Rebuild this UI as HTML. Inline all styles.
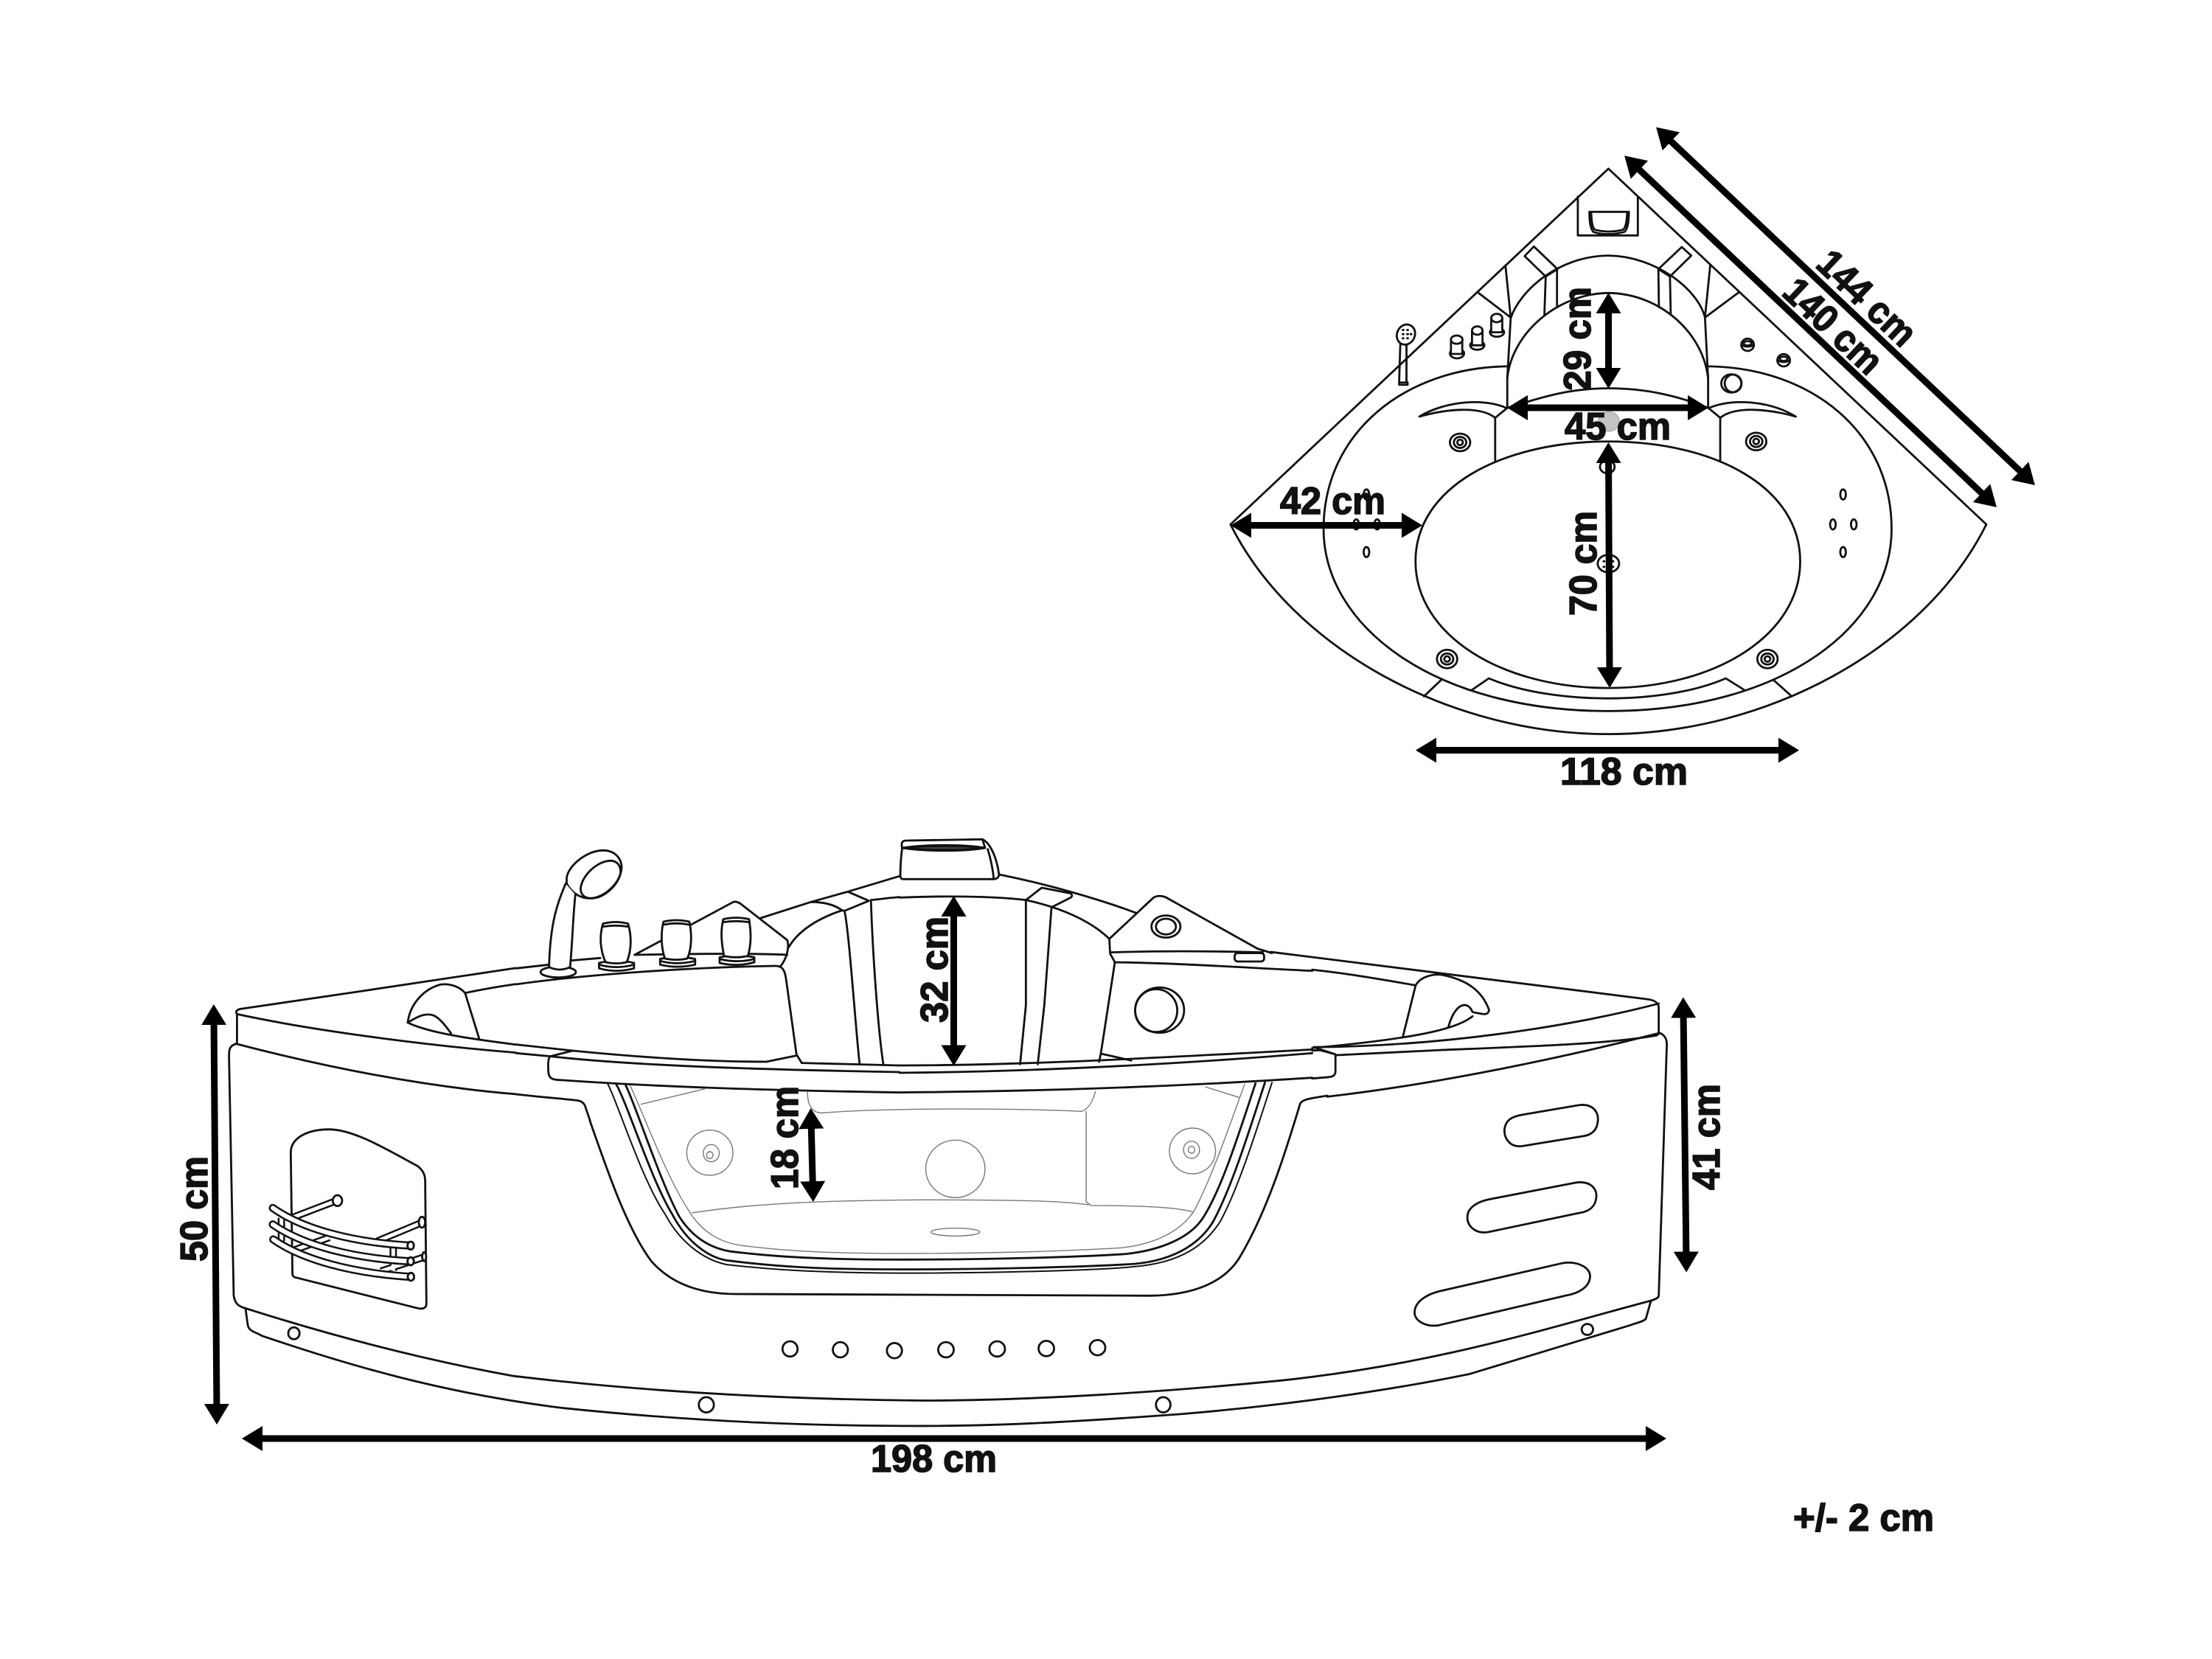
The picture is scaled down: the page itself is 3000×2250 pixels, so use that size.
<!DOCTYPE html>
<html><head><meta charset="utf-8"><title>Corner bath dimensions</title>
<style>
html,body{margin:0;padding:0;background:#fff}
svg{display:block}
svg *{vector-effect:non-scaling-stroke}
.d{fill:none;stroke:#111;stroke-width:2.8;stroke-linejoin:round;stroke-linecap:round}
.g{fill:none;stroke:#777;stroke-width:1.4}
.a{stroke:#000;stroke-width:9;fill:none;marker-start:url(#h);marker-end:url(#h)}
text{font-family:"Liberation Sans",sans-serif;font-weight:700;font-size:52px;fill:#111;stroke:#111;stroke-width:1.6;paint-order:stroke}
</style></head><body>
<svg xmlns="http://www.w3.org/2000/svg" width="3000" height="2250" viewBox="0 0 3000 2250">
<defs><marker id="h" markerUnits="userSpaceOnUse" markerWidth="28" markerHeight="34" viewBox="0 0 28 34" refX="13" refY="17" orient="auto-start-reverse"><path d="M0,0L28,17L0,34z" fill="#000"/></marker></defs>
<rect width="3000" height="2250" fill="#fff"/>

<!-- TOP VIEW outer -->
<g transform="translate(1600,130) scale(.765,.625)">
<g class="d">
<path d="M760,158L1430,930C1320,1200 1040,1385 760,1385C480,1385 200,1200 90,930Z"/>
<path d="M580,587C400,590 255,730 255,940C255,1150 450,1335 760,1335C1070,1335 1262,1150 1262,940C1262,730 1120,590 938,587"/>
<path d="M760,750C570,750 418,850 418,1010C418,1170 570,1285 760,1285C950,1285 1100,1170 1100,1010C1100,850 950,750 760,750Z"/>
<path d="M433,1303L463,1268M1085,1303L1053,1268M517,1290L548,1264C660,1322 860,1322 968,1264L1002,1290"/>
<ellipse cx="497" cy="752" rx="18" ry="19"/><ellipse cx="497" cy="752" rx="11" ry="12"/><ellipse cx="497" cy="752" rx="5" ry="6"/>
<ellipse cx="1022" cy="750" rx="18" ry="19"/><ellipse cx="1022" cy="750" rx="11" ry="12"/><ellipse cx="1022" cy="750" rx="5" ry="6"/>
<ellipse cx="474" cy="1222" rx="18" ry="20"/><ellipse cx="474" cy="1222" rx="11" ry="12"/><ellipse cx="474" cy="1222" rx="5" ry="6"/>
<ellipse cx="1042" cy="1222" rx="18" ry="20"/><ellipse cx="1042" cy="1222" rx="11" ry="12"/><ellipse cx="1042" cy="1222" rx="5" ry="6"/>
<ellipse cx="331" cy="865" rx="5" ry="11"/><ellipse cx="313" cy="930" rx="5" ry="11"/><ellipse cx="350" cy="930" rx="5" ry="11"/><ellipse cx="331" cy="990" rx="5" ry="11"/>
<ellipse cx="1176" cy="865" rx="5" ry="11"/><ellipse cx="1158" cy="930" rx="5" ry="11"/><ellipse cx="1195" cy="930" rx="5" ry="11"/><ellipse cx="1176" cy="990" rx="5" ry="11"/>
<ellipse cx="760" cy="1015" rx="19" ry="19"/><ellipse cx="758" cy="805" rx="13" ry="14"/>
<ellipse cx="401" cy="518" rx="16" ry="22" transform="rotate(10 401 518)"/>
<path d="M391,540L389,620M402,540L402,620M389,622H404V627H389Z"/>
</g>
<g fill="#111"><circle cx="396" cy="508" r="2.500"/><circle cx="404" cy="508" r="2.500"/><circle cx="396" cy="517" r="2.500"/><circle cx="404" cy="517" r="2.500"/><circle cx="410" cy="517" r="2.500"/><circle cx="396" cy="526" r="2.500"/><circle cx="404" cy="526" r="2.500"/><circle cx="752" cy="1010" r="2.500"/><circle cx="768" cy="1010" r="2.500"/><circle cx="752" cy="1022" r="2.500"/><circle cx="768" cy="1022" r="2.500"/></g>
</g>

<!-- TOP VIEW centre -->
<g transform="translate(1900,220) scale(.357,.3333)">
<circle cx="790" cy="1055" r="40" fill="#c4c4c4" stroke="#999" stroke-width="1"/>
<g class="d">
<path d="M672,140V298H900V140"/>
<path d="M716,202H866C866,240 862,270 850,283C810,296 760,296 730,283C718,265 716,235 716,202ZM723,210C724,240 727,262 735,274C770,285 810,285 845,274C855,262 858,240 859,210"/>
<path d="M470,382L505,343L595,435L550,465ZM1103,380L1067,345L978,435L1022,465Z"/>
<path d="M418,632C450,530 590,382 788,380C970,382 1130,520 1155,632"/>
<path d="M404,880C420,700 590,535 788,532C990,535 1150,700 1167,880"/>
<path d="M550,465L545,620M593,435V590M978,435L980,590M1022,465L1025,620"/>
<path d="M397,420L417,632L404,880V1000M1175,420L1155,632L1167,880V1000M290,528L417,632M1283,530L1155,632"/>
<path d="M404,1000C550,950 650,920 788,920C930,920 1050,950 1168,1000M404,1000L358,1040V1218M1168,1000L1213,1040V1215"/>
<path d="M70,1035C170,970 320,960 400,1000M70,1035C170,1005 300,990 358,1040M1500,1035C1400,970 1260,960 1170,1000M1500,1035C1400,1005 1270,990 1213,1040"/>
<ellipse cx="213" cy="778" rx="27" ry="20"/><path d="M190,722V780H233V722" fill="#fff"/><ellipse cx="212" cy="722" rx="22" ry="17" fill="#fff"/>
<ellipse cx="290" cy="745" rx="27" ry="18"/><path d="M270,685V745H310V685" fill="#fff"/><ellipse cx="290" cy="685" rx="20" ry="17" fill="#fff"/>
<ellipse cx="365" cy="692" rx="27" ry="18"/><path d="M343,634V692H385V634" fill="#fff"/><ellipse cx="364" cy="634" rx="21" ry="17" fill="#fff"/>
<ellipse cx="1317" cy="743" rx="24" ry="25"/><ellipse cx="1317" cy="737" rx="15" ry="9"/><path d="M1293,743Q1317,758 1341,743"/>
<ellipse cx="1454" cy="806" rx="24" ry="25"/><ellipse cx="1454" cy="800" rx="15" ry="9"/><path d="M1430,806Q1454,820 1478,806"/>
<ellipse cx="1255" cy="900" rx="38" ry="37"/><ellipse cx="1262" cy="900" rx="32" ry="36"/>
</g>
</g>

<!-- SIDE VIEW LEFT remainder -->
<g transform="translate(250,1120) scale(.6378,.574)">
<g class="d">
<path d="M118,433C300,405 550,360 705,336"/>
<path d="M597,395C640,385 680,378 705,374"/>
<path d="M118,433C108,436 110,442 112,445V512M112,445C300,490 550,522 705,536M475,465C520,490 620,505 705,517"/>
<path d="M110,515C300,570 500,615 705,634"/>
<path d="M110,515C95,520 95,530 95,545L105,1110C108,1130 115,1135 130,1140C300,1200 500,1260 700,1300C1000,1340 1300,1355 1568,1358"/>
<path d="M130,1140L135,1180C138,1195 150,1195 165,1205C350,1275 550,1340 800,1375C1100,1410 1350,1418 1568,1418"/>
<ellipse cx="233" cy="1199" rx="12" ry="14"/><ellipse cx="1110" cy="1368" rx="16" ry="18"/>
<ellipse cx="1288" cy="1236" rx="16" ry="18"/><ellipse cx="1395" cy="1238" rx="16" ry="18"/><ellipse cx="1510" cy="1240" rx="16" ry="18"/>
<path d="M597,395C585,380 565,372 545,375C510,385 480,420 475,465C490,455 510,440 530,448C545,455 560,480 567,490M597,395L627,503"/>
</g>
</g>

<!-- NICHE + BARS -->
<g transform="translate(300,1520) scale(.3333)">
<g class="d">
<path d="M290,625L283,130C283,70 350,35 440,35C540,35 680,120 800,185C825,205 830,225 830,245L835,745C835,762 820,768 800,763L300,637Q290,632 290,625Z"/>
</g>
<g fill="none" stroke-linecap="butt">
<path id="rods" d="M292,393L462,328M635,490L815,415M650,612L825,555M300,525L440,475M245,395V490M700,515V610" stroke="#111" stroke-width="10"/>
<path d="M292,393L462,328M635,490L815,415M650,612L825,555M300,525L440,475M245,395V490M700,515V610" stroke="#fff" stroke-width="5"/>
</g>
<g class="d" fill="#fff"><ellipse cx="473" cy="325" rx="19" ry="22" fill="#fff"/><ellipse cx="817" cy="413" rx="13" ry="22" fill="#fff"/><ellipse cx="826" cy="553" rx="8" ry="18" fill="#fff"/></g>
<g fill="none" stroke-linecap="round">
<path d="M210,355C330,440 530,495 770,508M210,422C330,505 530,560 770,572M212,483C330,565 530,620 770,635" stroke="#111" stroke-width="11"/>
<path d="M210,355C330,440 530,495 770,508M210,422C330,505 530,560 770,572M212,483C330,565 530,620 770,635" stroke="#fff" stroke-width="6"/>
</g>
<g class="d"><ellipse cx="771" cy="508" rx="13" ry="16" fill="#fff"/><ellipse cx="771" cy="572" rx="13" ry="16" fill="#fff"/><ellipse cx="772" cy="635" rx="13" ry="16" fill="#fff"/></g>
</g>

<!-- DECK LEFT-CENTRE -->
<g transform="translate(700,1130) scale(.357,.3333)">
<g class="d">
<path d="M0,550L125,535M210,518L320,508M450,495C700,490 900,488 1030,495"/>
<path d="M450,495L555,435M665,372L825,280Q835,276 850,285L1030,435C1038,460 1030,510 1003,543"/>
<path d="M930,345L1120,280L1260,238L1456,175M1120,280C1180,280 1215,295 1240,315M1260,238L1340,275L1250,315H1240M1348,272C1400,266 1430,262 1456,260M1035,465C1070,400 1140,350 1235,315"/>
<path d="M1248,320C1265,400 1290,800 1305,940M1348,278C1355,500 1375,800 1395,940"/>
<path d="M0,615C300,570 700,545 985,540C1010,540 1020,555 1025,590L1065,900L1085,935M950,930L1065,905"/>
<path d="M192,180C200,130 270,70 330,70C380,70 405,110 400,150C390,210 330,265 280,265C240,265 210,240 192,205Z"/>
<path d="M245,225C250,170 310,112 360,112C395,115 400,150 395,170C380,220 330,265 285,265C260,265 245,250 245,225Z"/>
<ellipse cx="160" cy="565" rx="67" ry="22" fill="#fff"/>
<path d="M188,205C160,280 130,350 125,545Q165,565 205,545C215,430 215,350 225,250" fill="#fff"/>
<path d="M315,528V550Q380,570 448,550V528Q380,510 315,528Z" fill="#fff"/><path d="M315,535Q380,555 448,535"/>
<path d="M330,368C315,420 320,480 340,525Q380,535 420,525C438,480 440,420 425,368Q378,355 330,368ZM332,380Q378,372 423,380" fill="#fff"/>
<path d="M547,512V535Q610,552 680,535V512Q610,495 547,512Z" fill="#fff"/><path d="M547,520Q610,538 680,520"/>
<path d="M560,360C548,410 552,470 565,510Q610,520 650,510C668,470 668,410 658,360Q608,348 560,360ZM562,372Q608,362 656,372" fill="#fff"/>
<path d="M773,505V528Q840,545 905,525V505Q840,490 773,505Z" fill="#fff"/><path d="M773,512Q840,530 905,512"/>
<path d="M787,350C775,400 782,460 790,500Q835,510 880,500C895,450 892,400 885,350Q835,338 787,350ZM788,362Q835,354 884,362" fill="#fff"/>
<path d="M1085,935L1456,945M0,860L215,885C500,915 750,930 950,930M0,895L130,908L215,885"/>
<path d="M130,908C400,940 800,960 1456,972M130,908Q120,915 122,960C122,990 130,1000 150,1003C500,1030 900,1045 1456,1055"/>
<path d="M0,1062C100,1075 180,1080 235,1088C255,1092 262,1105 265,1120L281,1170"/>
</g>
</g>

<!-- DECK RIGHT-CENTRE -->
<g transform="translate(1220,1130) scale(.357,.3333)">
<g class="d">
<path d="M10,60C5,100 3,130 3,170Q2,187 15,187H360Q375,185 378,170C370,100 345,40 315,25L25,30C10,30 5,40 10,60C100,45 250,45 325,60C250,75 100,75 10,60ZM315,25L325,60M335,65C345,100 355,150 358,187"/>
<path d="M40,60C100,52 240,52 300,60C240,68 100,68 40,60Z" fill="#444" stroke-width="1.5"/>
<path d="M378,168C550,205 750,265 900,325"/>
<path d="M0,262C150,255 350,255 480,272L540,222L650,245Q660,255 650,262L580,300M480,272C600,300 720,350 797,430M480,272V700L458,940M577,305L550,700L525,940"/>
<path d="M797,430L965,262Q985,250 1010,260L1360,470L1415,488M805,485C1000,478 1200,480 1380,485M797,430L800,490L818,525L765,895L758,930M818,525C1100,530 1350,550 1568,560M765,897L880,925"/>
<rect x="1273" y="488" width="112" height="34" rx="12"/>
<ellipse cx="1012" cy="380" rx="55" ry="45"/><ellipse cx="1012" cy="380" rx="38" ry="32"/>
<ellipse cx="988" cy="720" rx="93" ry="92"/><ellipse cx="975" cy="722" rx="80" ry="87"/>
<path d="M0,945C400,945 800,925 1568,880M0,975C500,970 1000,945 1568,895M0,1055C500,1050 1000,1035 1568,995"/>
</g>
</g>

<!-- WINDOW -->
<g transform="translate(800,1460) scale(.638,.3333)">
<g class="d">
<path d="M0,180C40,400 80,620 130,750C180,860 250,885 310,885L1190,892C1290,890 1350,830 1380,740C1440,550 1480,300 1510,110C1515,95 1525,90 1568,78"/>
<path stroke-width="2" d="M38,30C60,110 110,420 160,560C190,670 240,745 290,765C400,790 500,798 660,800C900,800 1100,785 1150,775C1260,760 1310,680 1340,590C1380,450 1420,200 1450,25"/>
<path d="M55,28C80,110 130,420 175,560C205,670 250,735 290,748C400,775 500,785 660,785C900,785 1100,770 1160,762C1250,745 1300,670 1325,590C1365,450 1405,200 1435,25"/>
<path d="M75,30C100,130 150,430 190,570C220,660 260,700 300,712C400,735 500,745 660,745C900,745 1080,730 1140,722C1220,705 1280,650 1305,570C1345,450 1385,200 1415,28"/>
</g>
<g class="g">
<path d="M85,35C110,130 160,400 210,545C240,640 280,675 320,687C420,712 520,720 660,720C900,720 1060,705 1130,697C1210,680 1260,620 1285,545C1320,420 1360,200 1392,30"/>
<path d="M108,113L245,50M1308,42L1380,85M463,60C462,90 465,110 470,125Q478,150 495,148C620,128 900,128 1045,142Q1065,130 1075,60M1055,140V510L1065,525C1150,525 1250,530 1282,552M217,555C350,515 500,505 700,502C900,502 1000,505 1060,522"/>
<ellipse cx="255" cy="310" rx="49" ry="92"/><ellipse cx="258" cy="312" rx="17" ry="35"/><ellipse cx="255" cy="320" rx="7" ry="14"/>
<ellipse cx="1281" cy="303" rx="49" ry="93"/><ellipse cx="1279" cy="298" rx="17" ry="35"/><ellipse cx="1279" cy="298" rx="7" ry="14"/>
<ellipse cx="777" cy="376" rx="63" ry="117"/><ellipse cx="777" cy="633" rx="52" ry="16"/>
</g>
</g>

<!-- SIDE VIEW RIGHT remainder -->
<g transform="translate(1250,1120) scale(.7015,.574)">
<g class="d">
<path d="M675,298L1405,410C1420,413 1425,420 1425,430V492M755,340C830,350 900,365 955,377"/>
<path d="M930,500L955,377C965,355 990,350 1005,352C1060,365 1085,395 1097,435C1095,450 1085,445 1065,440C1055,410 1030,420 1018,477M1065,450C1040,475 980,500 755,525"/>
<path d="M1425,420C1300,460 1050,520 758,523L800,540M800,542L1000,530C1200,520 1330,515 1422,495"/>
<path d="M1425,490C1250,545 1000,610 784,640"/>
<path d="M1428,490C1445,500 1440,520 1440,540L1425,1110C1425,1115 1420,1118 1410,1122C1200,1190 1000,1270 700,1310C450,1340 200,1358 0,1358"/>
<path d="M1410,1122L1400,1165C1395,1172 1380,1175 1370,1180L1060,1295C900,1335 700,1370 500,1390C300,1408 150,1418 0,1418"/>
<ellipse cx="1287" cy="1190" rx="11" ry="13"/><ellipse cx="467" cy="1368" rx="14" ry="18"/>
<ellipse cx="47" cy="1238" rx="15" ry="18"/><ellipse cx="146" cy="1236" rx="15" ry="18"/><ellipse cx="241" cy="1235" rx="15" ry="18"/><ellipse cx="340" cy="1233" rx="15" ry="18"/>
<path d="M1160,683L1270,660C1300,655 1310,680 1307,700C1305,720 1295,730 1280,733L1160,757C1135,760 1125,735 1127,715C1130,695 1140,688 1160,683Z"/>
<path d="M1095,883L1265,843C1295,838 1307,860 1304,880C1302,900 1290,912 1270,915L1095,960C1070,965 1055,945 1055,925C1055,905 1070,890 1095,883Z"/>
<path d="M1000,1100L1240,1033C1270,1028 1295,1045 1292,1068C1290,1090 1270,1105 1245,1110L1000,1180C975,1185 953,1170 953,1150C953,1125 975,1108 1000,1100Z"/>
<path d="M755,531L770,530L800,540V580C800,590 795,593 785,594L755,597"/>
</g>
</g>

<!-- ARROWS -->
<g>
<line class="a" x1="2257" y1="182.800" x2="2749" y2="647.700"/>
<line class="a" x1="2214" y1="221.400" x2="2697" y2="677.600"/>
<line class="a" x1="2181.500" y1="412" x2="2181.500" y2="512"/>
<line class="a" x1="2059" y1="553" x2="2302" y2="553"/>
<line class="a" x1="2181.500" y1="615" x2="2183" y2="918"/>
<line class="a" x1="1684" y1="712.500" x2="1914" y2="712.500"/>
<line class="a" x1="1935" y1="1017.500" x2="2425" y2="1017.500"/>
<line class="a" x1="290" y1="1377" x2="294" y2="1917"/>
<line class="a" x1="343" y1="1951" x2="2245" y2="1951"/>
<line class="a" x1="1100" y1="1518" x2="1102.500" y2="1615"/>
<line class="a" x1="1293.500" y1="1230" x2="1293.500" y2="1430.500"/>
<line class="a" x1="2283" y1="1367.500" x2="2287" y2="1710.500"/>
</g>

<!-- LABELS -->
<text x="2116" y="1064" textLength="173" lengthAdjust="spacingAndGlyphs">118 cm</text>
<text x="2122" y="596" textLength="144" lengthAdjust="spacingAndGlyphs">45 cm</text>
<text x="1736" y="697" textLength="143" lengthAdjust="spacingAndGlyphs">42 cm</text>
<text transform="translate(2157,530) rotate(-90)" textLength="141" lengthAdjust="spacingAndGlyphs">29 cm</text>
<text transform="translate(2165,835) rotate(-90)" textLength="142" lengthAdjust="spacingAndGlyphs">70 cm</text>
<text transform="translate(2460.600,361) rotate(43.400)" textLength="163" lengthAdjust="spacingAndGlyphs">144 cm</text>
<text transform="translate(2414.700,399) rotate(43.400)" textLength="163" lengthAdjust="spacingAndGlyphs">140 cm</text>
<text x="1181" y="1996" textLength="171" lengthAdjust="spacingAndGlyphs">198 cm</text>
<text transform="translate(281,1711) rotate(-90)" textLength="143" lengthAdjust="spacingAndGlyphs">50 cm</text>
<text transform="translate(1082,1613) rotate(-90)" textLength="140" lengthAdjust="spacingAndGlyphs">18 cm</text>
<text transform="translate(1285,1387) rotate(-90)" textLength="144" lengthAdjust="spacingAndGlyphs">32 cm</text>
<text transform="translate(2332,1614) rotate(-90)" textLength="144" lengthAdjust="spacingAndGlyphs">41 cm</text>
<text x="2432" y="2076" textLength="191" lengthAdjust="spacingAndGlyphs">+/- 2 cm</text>
</svg>
</body></html>
